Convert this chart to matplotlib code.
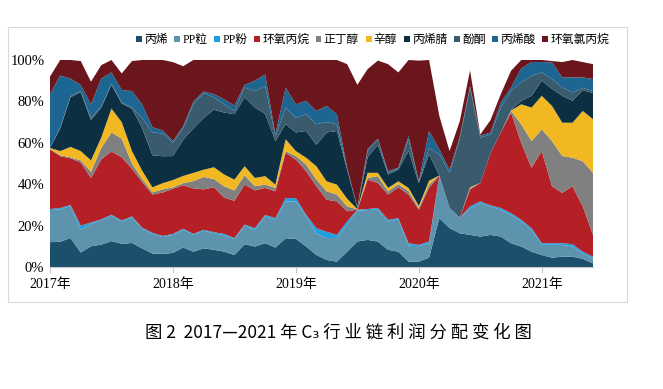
import matplotlib
matplotlib.use("Agg")
import matplotlib.pyplot as plt
from matplotlib.patches import Patch, Rectangle
import numpy as np

# monthly share of C3 chain profit, Jan 2017 - Jun 2021 (%)
names = ["丙烯", "PP粒", "PP粉", "环氧丙烷", "正丁醇", "辛醇", "丙烯腈", "酚酮", "丙烯酸", "环氧氯丙烷"]
colors = ["#1b4f6b", "#5e93ad", "#1ea0e0", "#b51f26", "#808080",
          "#f2b822", "#0d2f42", "#3a5b6d", "#1d6691", "#6b161c"]

propylene = [12, 12.2, 14, 7, 10, 10.8, 12.5, 11.2, 11.6, 9,
             6.5, 6.3, 6.8, 9.4, 7.4, 9, 8.3, 7.4, 5.8, 11,
             9.9, 11.5, 9.4, 13.9, 13.6, 9.9, 5.8, 3.4, 2.6, 7.4,
             12.3, 13.1, 12.3, 8.3, 7.4, 2.6, 2.6, 4.5, 23.6, 18.8,
             16.3, 15.5, 14.7, 15.5, 14.7, 11.5, 9.9, 7.4, 5.8, 4.5,
             5, 5, 3.9, 1.8]
pp_pellet = [15.5, 15.6, 15.5, 11, 11, 11.7, 12.3, 10.8, 12.4, 9.5,
             9.5, 8.2, 8.7, 8.6, 8.1, 8.5, 8, 7.9, 7.7, 9,
             8.1, 13, 13.6, 17.8, 18.1, 14.6, 10.5, 10.6, 11.4, 13.1,
             14.9, 14.4, 15.4, 13.7, 15.6, 7.8, 7.4, 7, 20.4, 9.7,
             7.3, 12.8, 16.2, 13.8, 13, 13.7, 12.1, 10.6, 4.9, 6.2,
             5.7, 4.9, 2.7, 2.4]
pp_powder = [0.5, 0.7, 0.5, 2, 0.5, 0.5, 0.5, 0.5, 0.5, 0.5,
             0.5, 0.5, 0.5, 0.5, 0.5, 0.5, 0.5, 0.7, 0.5, 0.5,
             0.8, 0.7, 0.6, 1.6, 1.6, 0.7, 2.5, 3, 1.5, 1.5,
             0.5, 0.5, 0.8, 0.8, 0.6, 1.1, 0.7, 0.8, 0.2, 0,
             0.2, 1, 0.8, 0.5, 0.8, 0.8, 0.8, 0.8, 0.8, 0.8,
             0.8, 1.1, 0.8, 0.8]
po = [28.8, 25, 22.5, 30.5, 21.5, 29, 30.5, 30.5, 23, 22,
      18.5, 21, 21.8, 21, 22, 19.5, 21.7, 17.5, 18, 19.3,
      18.2, 13, 13, 21.9, 18.6, 21.1, 20.2, 15.5, 16.2, 4.9,
      0, 14.2, 12.1, 12.2, 14.9, 23.5, 17, 25.9, 0, 0,
      0, 8.2, 8.9, 25.2, 36.4, 48.6, 37.2, 29.1, 44.5, 27.5,
      24.3, 28, 21.9, 10.5]
butanol = [0.3, 0.5, 0.5, 1, 3, 5.5, 9.2, 9, 2.5, 1.5,
           1, 1.5, 0.7, 1, 3.5, 6, 4, 5.5, 5, 4.5,
           2, 1.6, 1.6, 0.8, 1.7, 3.2, 3.2, 4.1, 3.3, 2.4,
           0.1, 0.8, 3.3, 1.6, 1.5, 1.6, 0.8, 1.6, 0, 0,
           0, 0.5, 0, 0, 0, 0.8, 8.9, 12.9, 10.5, 21.8,
           17.8, 13.8, 21.8, 30]
octanol = [0.4, 2, 5, 4.5, 5.5, 5, 11.5, 8, 6, 4,
           2.5, 3, 3.5, 3.5, 4, 3.5, 5.7, 5.7, 5.2, 4.4,
           4, 4.1, 1.6, 5.7, 2.4, 3.3, 6.5, 4.8, 4.8, 3.7,
           0.2, 2.5, 1.6, 1.6, 1.4, 1.6, 1, 1.9, 0, 0,
           0, 0.5, 0, 0, 0, 0.2, 9.7, 16.2, 16.2, 17,
           16.1, 16.9, 24.3, 25.9]
acrylonitrile = [0, 11, 24, 28.5, 19.5, 14.5, 11.5, 9, 20.5, 20.5,
                 15.5, 13, 11.6, 17.5, 21.5, 25, 27.8, 29.9, 31.6, 33.3,
                 34, 30.1, 21, 7.3, 9, 12.9, 10.3, 23.6, 25.9, 14,
                 0.5, 7.5, 13.5, 6.5, 5.6, 17.8, 11, 12.7, 0, 0,
                 0, 0, 0, 0, 0, 0.4, 1.7, 5.7, 7.3, 8.2,
                 13, 10.6, 10, 12.6]
phenol_acetone = [0, 0.5, 0.5, 0.5, 1, 0.5, 0.5, 0.5, 0.5, 5,
                  11, 11, 6.4, 5.5, 11.6, 12, 6, 4, 1.6, 4.7,
                  8, 13.5, 2.2, 8, 7, 8.1, 10, 5, 3.3, 0.5,
                  0.2, 3, 2.5, 0.8, 0.5, 5.7, 0.5, 3.2, 10.2, 17,
                  38.2, 48.2, 21.9, 9, 12.1, 9, 8.9, 9.7, 4, 4.8,
                  4, 4, 1.1, 1]
acrylic_acid = [26, 25, 8.5, 3, 6.5, 13.5, 5.5, 6, 8, 6.5,
                2.5, 1.5, 0.8, 1, 1.4, 0.8, 1.5, 2.4, 2.6, 1.3,
                5, 5.5, 1, 9.7, 6.6, 6.5, 6.4, 7.8, 4.8, 0.5,
                0.3, 1, 0.5, 0.8, 0.5, 1.6, 0.4, 8.1, 2.4, 1.5,
                1, 0.8, 1, 1, 2.4, 1.7, 6.8, 6.6, 5, 8.1,
                4.9, 7.3, 5.1, 5.8]
ech = [8.5, 7.5, 9, 11.5, 11, 6.5, 6, 8, 14.5, 21.5,
       32.5, 34, 38.2, 29, 20, 15.2, 16.5, 19, 22, 12,
       10, 7, 36, 13.3, 21.4, 19.7, 24.6, 22.2, 26.2, 50,
       59, 38.6, 37.7, 51.7, 46, 36.7, 58.3, 34.3, 16.2, 9,
       7.5, 7.5, 0.5, 6, 4.1, 8.1, 4, 1, 1, 0.6,
       7.4, 8.4, 7.4, 7.2]

series = [propylene, pp_pellet, pp_powder, po, butanol, octanol,
          acrylonitrile, phenol_acetone, acrylic_acid, ech]
months = np.arange(len(propylene))
year_ticks = [0, 12, 24, 36, 48]
year_labels = ["2017年", "2018年", "2019年", "2020年", "2021年"]

mixed = ["Liberation Serif", "Noto Sans CJK SC"]

fig = plt.figure(figsize=(6.63, 3.89), dpi=100)
ax = fig.add_axes([50 / 663, 1 - 267 / 389, 543 / 663, 207 / 389])

ax.stackplot(months, *series, colors=colors, linewidth=0)
ax.set_xlim(0, months[-1])
ax.set_ylim(0, 100)

ax.set_yticks([0, 20, 40, 60, 80, 100])
ax.set_yticklabels([f"{v}%" for v in range(0, 101, 20)], family=mixed, fontsize=10.5)
ax.set_xticks(year_ticks)
ax.set_xticklabels(year_labels, family=mixed, fontsize=10)
ax.tick_params(axis="y", length=0, pad=4)
ax.tick_params(axis="x", length=4, color="#c8c8c8", pad=4)
for s in ["top", "right", "left"]:
    ax.spines[s].set_visible(False)
ax.spines["bottom"].set_color("#c8c8c8")

handles = [Patch(facecolor=c, edgecolor="none") for c in colors]
leg = fig.legend(handles, names, loc="center", bbox_to_anchor=(0.562, 0.897),
                 ncol=10, frameon=False, handlelength=0.5, handleheight=0.5,
                 handletextpad=0.2, columnspacing=0.55,
                 prop={"family": mixed, "size": 8.5})

# light frame round the chart
fig.patches.append(Rectangle((8 / 663, 1 - 302 / 389), 619 / 663, 275 / 389,
                             transform=fig.transFigure, fill=False,
                             edgecolor="#d9d9d9", linewidth=0.8))

fig.text(0.51, 1 - 333 / 389, "图 2  2017—2021 年 C₃ 行 业 链 利 润 分 配 变 化 图",
         ha="center", va="center", fontsize=12.5,
         family=["Noto Sans CJK SC", "DejaVu Sans"])

fig.savefig("out.png", dpi=100)
